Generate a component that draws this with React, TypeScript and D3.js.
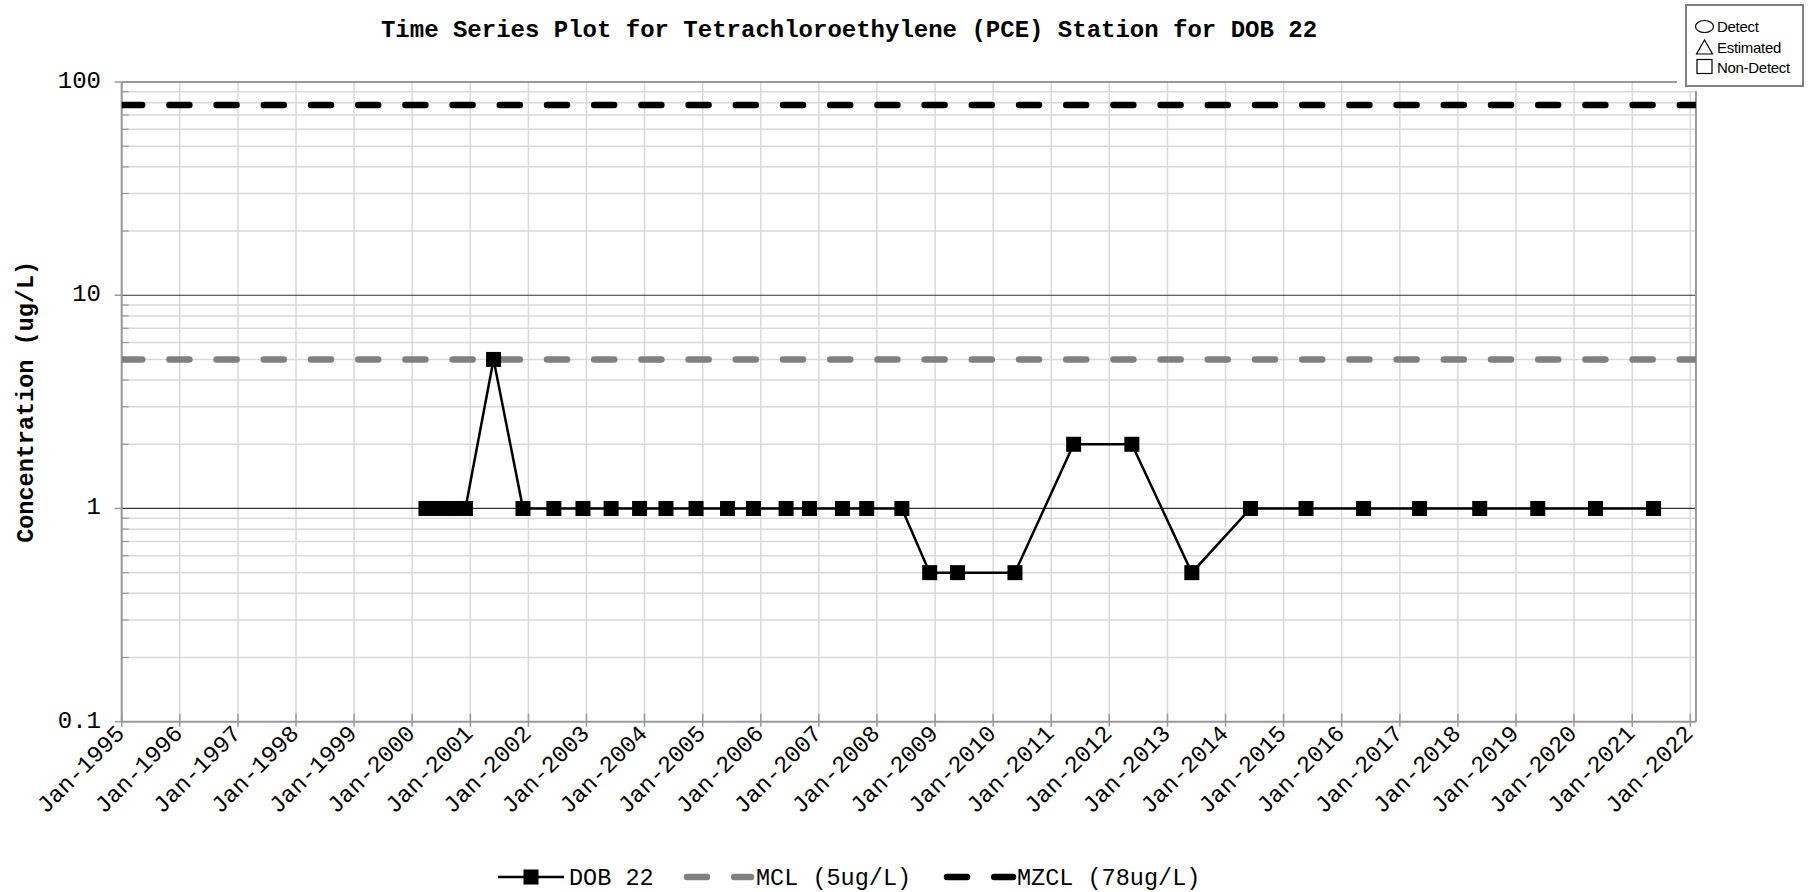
import React from "react";
import * as d3 from "d3";

const W = 1812;
const H = 892;

const titleText = "Time Series Plot for Tetrachloroethylene (PCE) Station for DOB 22";
const yAxisTitle = "Concentration (ug/L)";

const sampleDates = [
  "2000-03-28", "2000-06-15", "2000-09-05", "2000-12-01",
  "2001-05-27", "2001-11-28",
  "2002-06-10", "2002-12-10", "2003-06-05", "2003-12-01",
  "2004-05-15", "2004-11-20", "2005-06-06", "2005-11-16",
  "2006-06-09", "2006-11-03", "2007-05-30", "2007-10-29",
  "2008-06-06", "2008-11-28", "2009-05-22", "2010-05-18",
  "2011-05-22", "2012-05-22", "2013-06-03", "2014-06-07",
  "2015-05-22", "2016-05-18", "2017-05-05", "2018-05-18",
  "2019-05-18", "2020-05-15", "2021-05-15",
];
const pceValues = [
  1, 1, 1, 1,
  5, 1,
  1, 1, 1, 1,
  1, 1, 1, 1,
  1, 1, 1, 1,
  1, 0.5, 0.5, 0.5,
  2, 2, 0.5, 1,
  1, 1, 1, 1,
  1, 1, 1,
];

const mclValue = 5;
const mzclValue = 78;

const xTickLabels = [
  "Jan-1995", "Jan-1996", "Jan-1997", "Jan-1998", "Jan-1999", "Jan-2000",
  "Jan-2001", "Jan-2002", "Jan-2003", "Jan-2004", "Jan-2005", "Jan-2006",
  "Jan-2007", "Jan-2008", "Jan-2009", "Jan-2010", "Jan-2011", "Jan-2012",
  "Jan-2013", "Jan-2014", "Jan-2015", "Jan-2016", "Jan-2017", "Jan-2018",
  "Jan-2019", "Jan-2020", "Jan-2021", "Jan-2022",
];
const yTickValues = [0.1, 1, 10, 100];
const yTickLabels = ["0.1", "1", "10", "100"];

const legendLabels = ["DOB 22", "MCL (5ug/L)", "MZCL (78ug/L)"];
const symbolLegendLabels = ["Detect", "Estimated", "Non-Detect"];

const MONO = "'Liberation Mono', 'DejaVu Sans Mono', monospace";
const SANS = "'Liberation Sans', Arial, sans-serif";

export default function App() {
  const left = 121.7;
  const xEnd = 1690.3;
  const frameRight = 1696;
  const top = 82;
  const bottom = 721.7;

  const parse = d3.timeParse("%Y-%m-%d");
  const x = d3
    .scaleTime()
    .domain([new Date(1995, 0, 1), new Date(2022, 0, 1)])
    .range([left, xEnd]);
  const y = d3.scaleLog().domain([0.1, 100]).range([bottom, top]);

  const tickDates = xTickLabels.map((s) => d3.timeParse("%b-%Y")(s) as Date);
  const pts = sampleDates.map((d, i) => ({ d: parse(d) as Date, v: pceValues[i] }));

  const line = d3
    .line<{ d: Date; v: number }>()
    .x((p) => x(p.d))
    .y((p) => y(p.v));

  const minor: number[] = [];
  for (let dec = 0.1; dec < 100; dec *= 10) {
    for (let k = 2; k <= 9; k++) minor.push(+(dec * k).toPrecision(3));
  }

  const dash = "20 27.2";
  const sq = 15;

  return (
    <svg width={W} height={H} style={{ display: "block", position: "absolute", left: 0, top: 0 }}>
      <rect x={0} y={0} width={W} height={H} fill="#fff" />
      {/* title */}
      <text x={849} y={37} textAnchor="middle" fontFamily={MONO} fontWeight="bold" fontSize={24} fill="#000">
        {titleText}
      </text>

      {/* minor horizontal grid */}
      {minor.map((v) => (
        <line key={"mg" + v} x1={left} x2={frameRight} y1={y(v)} y2={y(v)} stroke="#d9d9d9" strokeWidth={1.5} />
      ))}
      {/* vertical grid */}
      {tickDates.map((d, i) => (
        <line key={"vg" + i} x1={x(d)} x2={x(d)} y1={top} y2={bottom} stroke="#d9d9d9" strokeWidth={1.5} />
      ))}
      {/* major horizontal lines */}
      {[1, 10].map((v) => (
        <line key={"mj" + v} x1={left} x2={frameRight} y1={y(v)} y2={y(v)} stroke="#333" strokeWidth={1.2} />
      ))}
      {/* minor ticks inside left */}
      {minor.map((v) => (
        <line key={"mt" + v} x1={left} x2={left + 7} y1={y(v)} y2={y(v)} stroke="#999" strokeWidth={1.2} />
      ))}
      {/* x ticks */}
      {tickDates.map((d, i) => (
        <line key={"xt" + i} x1={x(d)} x2={x(d)} y1={bottom - 8} y2={bottom + 5} stroke="#999" strokeWidth={1.5} />
      ))}
      {/* y major ticks outside */}
      {yTickValues.map((v) => (
        <line key={"yt" + v} x1={left - 7} x2={left} y1={y(v)} y2={y(v)} stroke="#999" strokeWidth={1.5} />
      ))}

      {/* frame */}
      <line x1={left} x2={frameRight} y1={top} y2={top} stroke="#999" strokeWidth={2} />
      <line x1={left} x2={frameRight} y1={bottom} y2={bottom} stroke="#999" strokeWidth={2} />
      <line x1={left} x2={left} y1={top} y2={bottom} stroke="#999" strokeWidth={2} />
      <line x1={frameRight} x2={frameRight} y1={top} y2={bottom} stroke="#999" strokeWidth={2} />

      <defs>
        <clipPath id="plotclip">
          <rect x={left} y={top} width={frameRight - left} height={bottom - top} />
        </clipPath>
      </defs>

      {/* reference lines */}
      <g clipPath="url(#plotclip)">
        <line x1={left + 0.5} x2={frameRight} y1={y(mclValue)} y2={y(mclValue)} stroke="#808080" strokeWidth={6.5} strokeDasharray={dash} strokeLinecap="round" />
        <line x1={left + 0.5} x2={frameRight} y1={y(mzclValue)} y2={y(mzclValue)} stroke="#000" strokeWidth={6.5} strokeDasharray={dash} strokeLinecap="round" />
      </g>

      {/* data */}
      <path d={line(pts) || ""} fill="none" stroke="#000" strokeWidth={2.5} />
      {pts.map((p, i) => (
        <rect key={"p" + i} x={x(p.d) - sq / 2} y={y(p.v) - sq / 2} width={sq} height={sq} fill="#000" />
      ))}

      {/* y tick labels */}
      {yTickValues.map((v, i) => (
        <text key={"yl" + v} x={101} y={y(v) + 6} textAnchor="end" fontFamily={MONO} fontSize={24} fill="#000">
          {yTickLabels[i]}
        </text>
      ))}
      {/* x tick labels */}
      {tickDates.map((d, i) => (
        <text key={"xl" + i} transform={`translate(${x(d) + 4},${bottom + 13}) rotate(-45)`} textAnchor="end" fontFamily={MONO} fontSize={23.5} fill="#000">
          {xTickLabels[i]}
        </text>
      ))}

      {/* y axis title */}
      <text transform={`translate(33,${(top + bottom) / 2}) rotate(-90)`} textAnchor="middle" fontFamily={MONO} fontWeight="bold" fontSize={23.5} fill="#000">
        {yAxisTitle}
      </text>

      {/* symbol legend */}
      <rect x={1677} y={0} width={W - 1677} height={91} fill="#fff" />
      <rect x={1686} y={5} width={117} height={81} fill="#fff" stroke="#808080" strokeWidth={2} />
      <ellipse cx={1704.5} cy={26.5} rx={9} ry={6} fill="none" stroke="#000" strokeWidth={1.2} />
      <path d="M1704.5,40 L1696.5,54 L1712.5,54 Z" fill="none" stroke="#000" strokeWidth={1.2} />
      <rect x={1697} y={59.5} width={15} height={14} fill="none" stroke="#000" strokeWidth={1.2} />
      {symbolLegendLabels.map((s, i) => (
        <text key={"sl" + i} x={1717} y={32 + i * 20.5} fontFamily={SANS} fontSize={15} fill="#000" letterSpacing={-0.3}>
          {s}
        </text>
      ))}

      {/* bottom legend */}
      <line x1={498} x2={564} y1={877} y2={877} stroke="#000" strokeWidth={2.5} />
      <rect x={531 - sq / 2} y={877 - sq / 2} width={sq} height={sq} fill="#000" />
      <text x={569} y={885} fontFamily={MONO} fontSize={23.5} fill="#000">{legendLabels[0]}</text>
      <line x1={687} x2={751} y1={877} y2={877} stroke="#808080" strokeWidth={6.5} strokeDasharray={dash} strokeLinecap="round" />
      <text x={756} y={885} fontFamily={MONO} fontSize={23.5} fill="#000">{legendLabels[1]}</text>
      <line x1={947} x2={1013} y1={877} y2={877} stroke="#000" strokeWidth={6.5} strokeDasharray={dash} strokeLinecap="round" />
      <text x={1017} y={885} fontFamily={MONO} fontSize={23.5} fill="#000">{legendLabels[2]}</text>
    </svg>
  );
}
